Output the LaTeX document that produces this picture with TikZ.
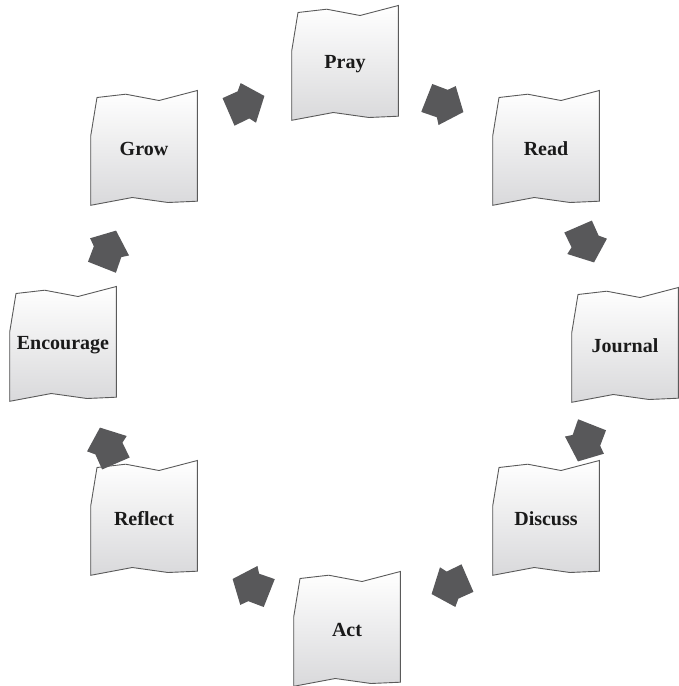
\documentclass[tikz,border=0pt]{standalone}
\usepackage{fontspec}
\setmainfont{Liberation Serif}
\definecolor{edge}{HTML}{5A5A5A}
\definecolor{arrowfill}{HTML}{58585A}
\definecolor{bottomgray}{HTML}{D9D9DB}
\definecolor{ink}{HTML}{1A1A1A}
\tikzset{
  lbl/.style={font=\fontsize{20}{23}\selectfont\bfseries, text=ink, inner sep=0pt},
  paperbox/.style={draw=edge, line width=0.9pt, line join=miter, top color=white, bottom color=bottomgray},
  cyclearrow/.style={fill=arrowfill, draw=none},
  paper/.pic={
    \path[paperbox] (-47,-50.5) -- (-18.3,-53.8) -- (15,-47.5) -- (53.3,-57.5)
      -- (53.3,53.2) -- (24,54.5) -- (-11.7,49.5) -- (-53.3,57.3)
      -- (-53.3,-12) -- cycle;
  }
}
\begin{document}
\begin{tikzpicture}[x=1pt,y=-1pt]
\useasboundingbox (0,0) rectangle (678,686);
% boxes
\foreach \name/\txt/\px/\py in {
  pray/Pray/345/63, read/Read/546/148, journal/Journal/625/345,
  discuss/Discuss/546/518, act/Act/347/629, reflect/Reflect/144/518,
  encourage/Encourage/63/344, grow/Grow/144/148}{
  \pic at (\px,\py) {paper};
  \node[lbl] (\name) at (\px,\py+1) {\txt};
}
% arrows between the boxes
\foreach \ax/\ay/\ang in {
  245/104/22.5, 444/104/-22.5, 586/243/-67.5, 586/442/-112.5,
  451/586/-157.5, 252/587/157.5, 108/447/112.5, 108/250/67.5}{
  \fill[cyclearrow, shift={(\ax,\ay)}, rotate=\ang]
    (21,0) -- (3,21.5) -- (-1.5,15) -- (-18,16) -- (-18.5,-14)
    -- (-2,-14.5) -- (4,-21) -- cycle;
}
\end{tikzpicture}
\end{document}
